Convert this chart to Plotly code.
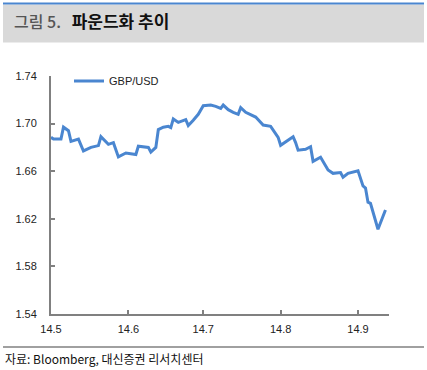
import plotly.graph_objects as go

# ---- data ----
dates = [
    "2014-05-01", "2014-05-02", "2014-05-05", "2014-05-06", "2014-05-08", "2014-05-09",
    "2014-05-12", "2014-05-14", "2014-05-17", "2014-05-20", "2014-05-21", "2014-05-24",
    "2014-05-26", "2014-05-28", "2014-05-31", "2014-06-04", "2014-06-05", "2014-06-09",
    "2014-06-10", "2014-06-12", "2014-06-13", "2014-06-15", "2014-06-17", "2014-06-18",
    "2014-06-19", "2014-06-21", "2014-06-24", "2014-06-25", "2014-06-27", "2014-06-29",
    "2014-07-01", "2014-07-03", "2014-07-04", "2014-07-06", "2014-07-08", "2014-07-09",
    "2014-07-11", "2014-07-13", "2014-07-15", "2014-07-16", "2014-07-18", "2014-07-22",
    "2014-07-25", "2014-07-28", "2014-07-30", "2014-07-31", "2014-08-01", "2014-08-06",
    "2014-08-07", "2014-08-08", "2014-08-11", "2014-08-13", "2014-08-14", "2014-08-17",
    "2014-08-20", "2014-08-22", "2014-08-25", "2014-08-26", "2014-08-28", "2014-09-01",
    "2014-09-03", "2014-09-04", "2014-09-05", "2014-09-06", "2014-09-09", "2014-09-11",
    "2014-09-12",
]
gbp_usd = [
    1.6885, 1.6870, 1.6870, 1.6970, 1.6940, 1.6850,
    1.6870, 1.6770, 1.6800, 1.6815, 1.6890, 1.6826,
    1.6840, 1.6720, 1.6753, 1.6740, 1.6810, 1.6800,
    1.6760, 1.6800, 1.6950, 1.6970, 1.6977, 1.6966,
    1.7039, 1.7010, 1.7033, 1.6983, 1.7028, 1.7078,
    1.7150, 1.7156, 1.7156, 1.7145, 1.7128, 1.7156,
    1.7117, 1.7095, 1.7078, 1.7134, 1.7095, 1.7055,
    1.6988, 1.6977, 1.6915, 1.6885, 1.6818, 1.6890,
    1.6840, 1.6777, 1.6784, 1.6806, 1.6683, 1.6717,
    1.6610, 1.6582, 1.6588, 1.6549, 1.6582, 1.6604,
    1.6476, 1.6459, 1.6340, 1.6330, 1.6112, 1.6218,
    1.6274,
]
series_name = "GBP/USD"
y_ticks = [1.54, 1.58, 1.62, 1.66, 1.70, 1.74]
y_tick_labels = ["1.54", "1.58", "1.62", "1.66", "1.70", "1.74"]
title_num = "그림 5."
title_text = "파운드화 추이"
source_text = "자료: Bloomberg, 대신증권 리서치센터"

# ---- layout helpers (pixel -> paper) ----
W, H = 427, 370
L, R, T, B = 51, 389, 76, 314
def px(x):
    return (x - L) / (R - L)
def py(y):
    return (B - y) / (B - T)

BLUE = "#4a86d0"
AXIS = "#808080"

fig = go.Figure()
fig.add_trace(go.Scatter(
    x=dates, y=gbp_usd, mode="lines", name=series_name,
    line=dict(color=BLUE, width=3), showlegend=True,
))

fig.update_layout(
    width=W, height=H,
    margin=dict(l=L, r=W - R, t=T, b=H - B),
    paper_bgcolor="white", plot_bgcolor="white",
    font=dict(family="Liberation Sans, Arial, sans-serif", size=11, color="#222"),
    showlegend=True,
    legend=dict(x=px(69), y=py(81), xanchor="left", yanchor="middle",
                bgcolor="rgba(0,0,0,0)", font=dict(size=11, color="#222")),
    xaxis=dict(
        type="date", range=["2014-05-01", "2014-09-13 10:00"],
        tickformat="%y.%-m", dtick="M1", tick0="2014-05-01",
        showgrid=False, zeroline=False,
        showline=True, linecolor=AXIS, linewidth=2,
        ticks="inside", ticklen=4, tickcolor=AXIS, tickwidth=2,
        ticklabelstandoff=4,
    ),
    yaxis=dict(
        range=[1.54, 1.74], tickvals=y_ticks, ticktext=y_tick_labels,
        showgrid=False, zeroline=False,
        showline=True, linecolor=AXIS, linewidth=2,
        ticks="inside", ticklen=4, tickcolor=AXIS, tickwidth=2,
        ticklabelstandoff=10,
    ),
    shapes=[
        dict(type="rect", xref="paper", yref="paper",
             x0=px(3), x1=px(424), y0=py(42.5), y1=py(4.5),
             fillcolor="#d9d9d9", line=dict(width=0), layer="below"),
        dict(type="line", xref="paper", yref="paper",
             x0=px(3), x1=px(424), y0=py(3.5), y1=py(3.5),
             line=dict(color=BLUE, width=2)),
        dict(type="line", xref="paper", yref="paper",
             x0=px(3), x1=px(424), y0=py(347), y1=py(347),
             line=dict(color=AXIS, width=1.5)),
    ],
    annotations=[
        dict(xref="paper", yref="paper", x=px(12), y=py(21),
             xanchor="left", yanchor="middle", showarrow=False,
             text=(f"<span style='color:#555555;font-weight:500'>{title_num}</span>&nbsp;&nbsp;&nbsp;"
                   f"<b style='font-size:17px'>{title_text}</b>"),
             font=dict(family="Noto Sans CJK KR, sans-serif", size=16, color="#111")),
        dict(xref="paper", yref="paper", x=px(3), y=py(358),
             xanchor="left", yanchor="middle", showarrow=False,
             text=source_text,
             font=dict(family="Noto Sans CJK KR, sans-serif", size=12, color="#111")),
    ],
)

fig.write_html(
    "out.html",
    config={"displayModeBar": False},
    post_script="document.body.style.margin='0';document.body.style.padding='0';",
)
